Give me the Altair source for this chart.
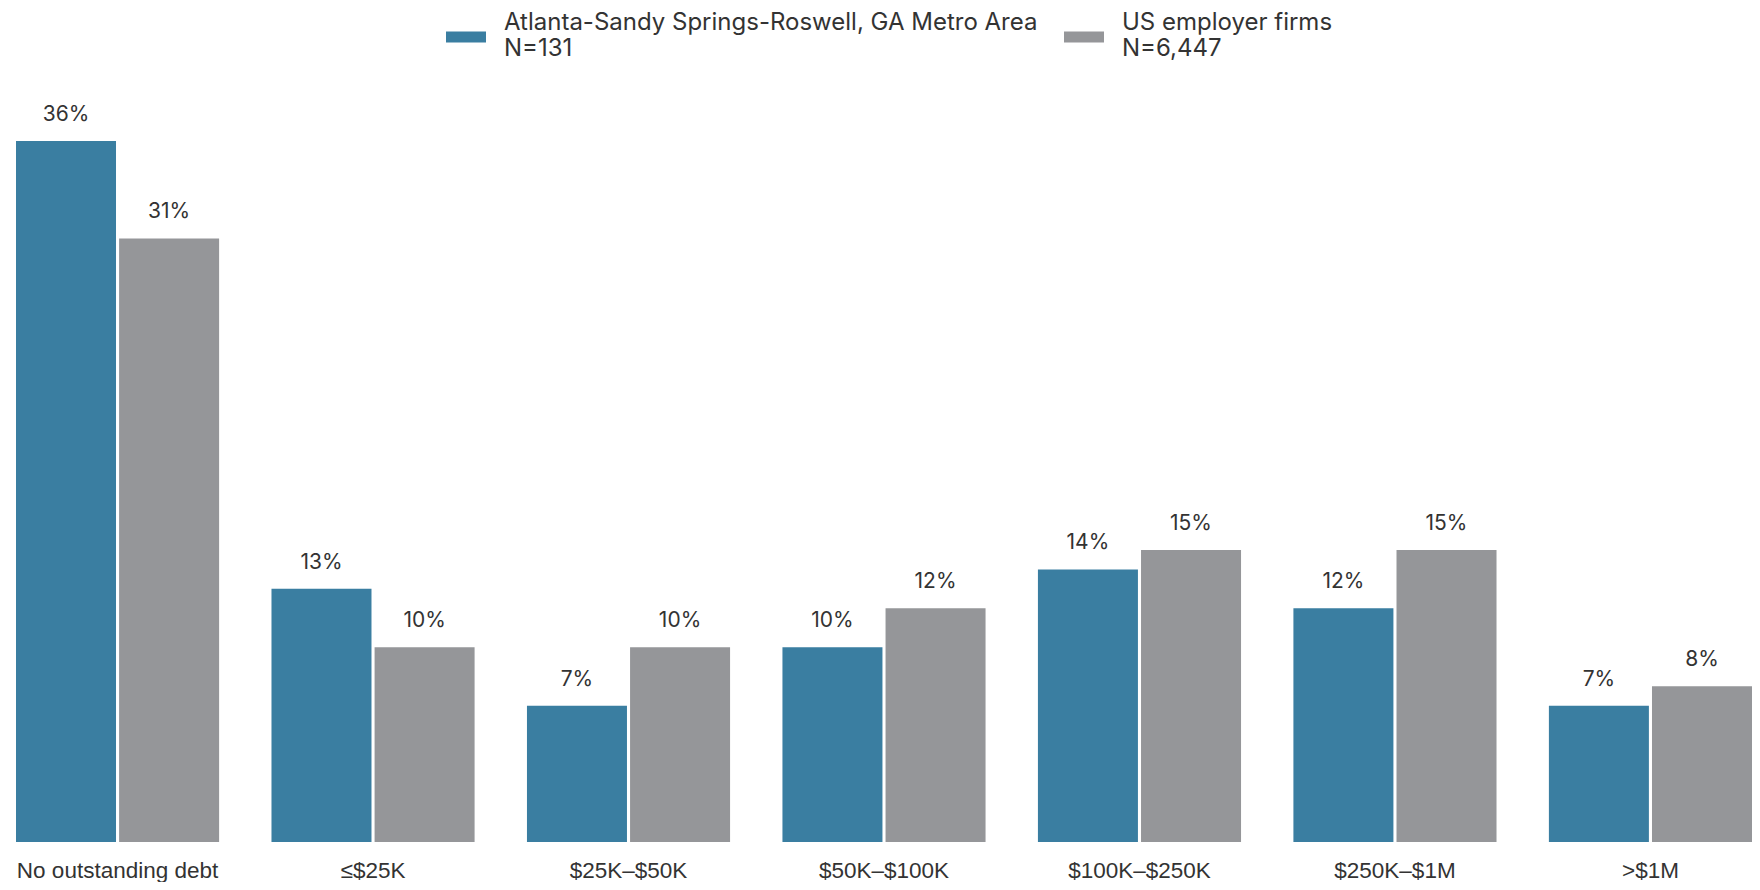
import altair as alt
import pandas as pd

categories = ["No outstanding debt", "≤$25K", "$25K–$50K", "$50K–$100K",
              "$100K–$250K", "$250K–$1M", ">$1M"]
series_names = ["Atlanta-Sandy Springs-Roswell, GA Metro Area|N=131",
                "US employer firms|N=6,447"]
atlanta = [36, 13, 7, 10, 14, 12, 7]
us_firms = [31, 10, 10, 12, 15, 15, 8]
colors = ["#3a7ea1", "#959699"]

rows = []
for i, c in enumerate(categories):
    rows.append({"cat": c, "series": series_names[0], "value": atlanta[i]})
    rows.append({"cat": c, "series": series_names[1], "value": us_firms[i]})
df = pd.DataFrame(rows)
df["label"] = df["value"].astype(str) + "%"

base = alt.Chart(df).encode(
    x=alt.X("cat:N", sort=categories,
            scale=alt.Scale(paddingInner=0.205, paddingOuter=0),
            axis=alt.Axis(title=None, labelAngle=0, domain=False, ticks=False,
                          labelFont="Liberation Sans", labelFontSize=22.5,
                          labelColor="#333333", labelPadding=17, labelLimit=400)),
    xOffset=alt.XOffset("series:N", sort=series_names,
                        scale=alt.Scale(paddingInner=0.03)),
)

bars = base.mark_bar().encode(
    y=alt.Y("value:Q", scale=alt.Scale(domain=[0, 39.75], nice=False), axis=None),
    color=alt.Color("series:N", sort=series_names,
                    scale=alt.Scale(domain=series_names, range=colors),
                    legend=alt.Legend(
                        orient="none", legendX=430, legendY=-65,
                        direction="horizontal", title=None,
                        symbolType="M-1,0.42L1,0.42L1,0.98L-1,0.98Z",
                        symbolSize=1600, symbolStrokeWidth=0, symbolOpacity=1,
                        labelFont="Inter", labelFontSize=24,
                        labelColor="#333333", labelLimit=900,
                        labelExpr="split(datum.label, '|')",
                        columnPadding=26, labelOffset=18, padding=0)),
)

text = base.mark_text(dy=-20, baseline="alphabetic", font="Inter",
                      fontSize=21, color="#333333").encode(
    y=alt.Y("value:Q"), text="label:N")

chart = (bars + text).properties(
    width=1736, height=774,
    padding={"left": 8, "top": 60, "right": 0, "bottom": 40},
    autosize=alt.AutoSizeParams(type="none"),
).configure_view(stroke=None)

chart.save("out.html", embed_options={"renderer": "svg", "actions": False})
